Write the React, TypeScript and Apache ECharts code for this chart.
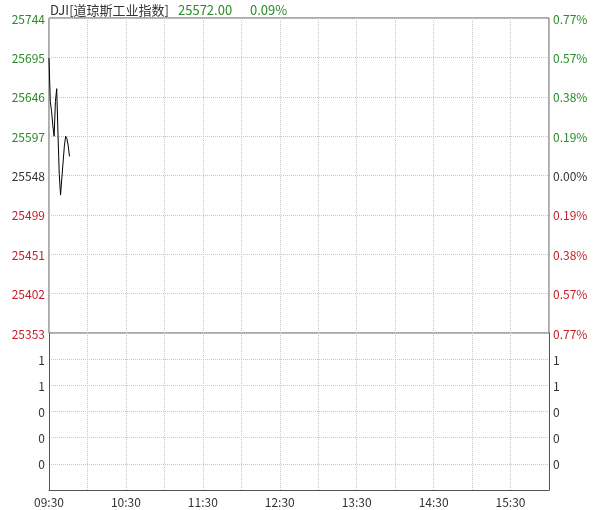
import React, { useEffect, useRef } from "react";
import * as echarts from "echarts";

// ---- data ----
const title = "DJI[道琼斯工业指数]";
const lastPrice = "25572.00";
const lastChange = "0.09%";
const prevClose = 25548.3;
const priceStep = 48.85;
const minutes = [0, 1, 2, 3, 4, 5, 6, 7, 8, 9, 10, 11, 12, 13, 14, 15, 16];
const prices = [25694, 25640, 25628, 25610, 25597, 25640, 25656, 25600, 25550, 25524, 25545, 25565, 25585, 25597, 25594, 25585, 25572];
const volumes: number[] = [];
const priceTickLabels = ["25353", "25402", "25451", "25499", "25548", "25597", "25646", "25695", "25744"];
const pctTickLabels = ["0.77%", "0.57%", "0.38%", "0.19%", "0.00%", "0.19%", "0.38%", "0.57%", "0.77%"];
const volTickLabels = ["", "0", "0", "0", "1", "1", ""];
const timeLabels = ["09:30", "10:30", "11:30", "12:30", "13:30", "14:30", "15:30"];

const GREEN = "#2a8a2a";
const RED = "#c41e2a";
const GREY = "#333333";
const BORDER = "#555555";
const FONT = "'Microsoft YaHei', 'Noto Sans CJK SC', 'Noto Sans', sans-serif";

export default function App() {
  const ref = useRef<HTMLDivElement>(null);
  useEffect(() => {
    if (!ref.current) return;
    const chart = echarts.init(ref.current, null, { renderer: "svg" });
    const yMin = prevClose - 4 * priceStep;
    const yMax = prevClose + 4 * priceStep;
    const tickVals = priceTickLabels.map((_, i) => yMin + i * priceStep);
    const idxOf = (v: number) => Math.round((v - yMin) / priceStep);
    const colorOf = (i: number) => (i > 4 ? GREEN : i < 4 ? RED : GREY);

    const splitLine = { show: true, lineStyle: { color: "#c8c8c8", type: "dotted" as const, width: 1 } };
    const borderLine = { show: true, onZero: false, lineStyle: { color: BORDER, width: 1 } };
    const headerStyle = (text: string, fill: string) => ({
      text, fill, font: `13px ${FONT}`, textVerticalAlign: "middle", verticalAlign: "middle",
    });

    chart.setOption({
      animation: false,
      textStyle: { fontFamily: FONT },
      graphic: [
        { type: "text", x: 50, y: 9, style: headerStyle(title, GREY) },
        { type: "text", x: 178, y: 9, style: headerStyle(lastPrice, GREEN) },
        { type: "text", x: 250, y: 9, style: headerStyle(lastChange, GREEN) },
      ],
      grid: [
        { left: 49, top: 18, width: 500, height: 315, show: true, borderColor: BORDER, borderWidth: 1, containLabel: false },
        { left: 49, top: 333, width: 500, height: 157, show: false, containLabel: false },
      ],
      xAxis: [
        {
          type: "value", gridIndex: 0, min: 0, max: 390, interval: 30,
          axisLine: { show: false }, axisTick: { show: false }, axisLabel: { show: false },
          splitLine,
        },
        {
          type: "value", gridIndex: 1, min: 0, max: 390, interval: 30, position: "bottom",
          axisLine: borderLine, axisTick: { show: false },
          axisLabel: {
            show: true, color: GREY, fontSize: 12, fontFamily: FONT, margin: 5,
            formatter: (v: number) => (v % 60 === 0 ? timeLabels[v / 60] ?? "" : ""),
          },
          splitLine,
        },
      ],
      yAxis: [
        {
          type: "value", gridIndex: 0, min: yMin, max: yMax, position: "left",
          axisLine: { show: false },
          axisTick: { show: false, customValues: tickVals },
          axisLabel: {
            customValues: tickVals, fontSize: 12, fontFamily: FONT, margin: 4,
            formatter: (v: number) => priceTickLabels[idxOf(v)] ?? "",
            color: (v: number) => colorOf(idxOf(v)),
          },
          splitLine,
        },
        {
          type: "value", gridIndex: 0, min: yMin, max: yMax, position: "right",
          axisLine: { show: false },
          axisTick: { show: false, customValues: tickVals },
          axisLabel: {
            customValues: tickVals, fontSize: 12, fontFamily: FONT, margin: 4,
            formatter: (v: number) => pctTickLabels[idxOf(v)] ?? "",
            color: (v: number) => colorOf(idxOf(v)),
          },
          splitLine: { show: false },
        },
        {
          type: "value", gridIndex: 1, min: 0, max: 6, interval: 1, position: "left",
          axisLine: borderLine, axisTick: { show: false },
          axisLabel: {
            fontSize: 12, fontFamily: FONT, color: GREY, margin: 4, showMinLabel: false, showMaxLabel: false,
            formatter: (v: number) => volTickLabels[Math.round(v)] ?? "",
          },
          splitLine,
        },
        {
          type: "value", gridIndex: 1, min: 0, max: 6, interval: 1, position: "right",
          axisLine: borderLine, axisTick: { show: false },
          axisLabel: {
            fontSize: 12, fontFamily: FONT, color: GREY, margin: 4, showMinLabel: false, showMaxLabel: false,
            formatter: (v: number) => volTickLabels[Math.round(v)] ?? "",
          },
          splitLine: { show: false },
        },
      ],
      series: [
        {
          type: "line", xAxisIndex: 0, yAxisIndex: 0,
          data: minutes.map((m, i) => [m, prices[i]]),
          showSymbol: false, symbol: "none",
          lineStyle: { color: "#000", width: 1 },
        },
        {
          type: "bar", xAxisIndex: 1, yAxisIndex: 2,
          data: volumes.map((v, i) => [i, v]),
          itemStyle: { color: "#000" },
        },
      ],
    });
    return () => chart.dispose();
  }, []);
  return <div ref={ref} style={{ position: "fixed", left: 0, top: 0, width: 593, height: 510 }} />;
}
